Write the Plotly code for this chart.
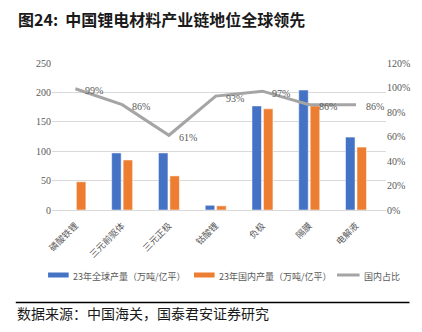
import plotly.graph_objects as go

categories = ["磷酸铁锂", "三元前驱体", "三元正极", "钴酸锂", "负极", "隔膜", "电解液"]
global_output = [None, 97, 97, 8, 177, 204, 124]
domestic_output = [48, 85, 58, 7, 172, 177, 107]
domestic_share = [99, 86, 61, 93, 97, 86, 86]
share_labels = [f"{v}%" for v in domestic_share]

series_names = ["23年全球产量（万吨/亿平）", "23年国内产量（万吨/亿平）", "国内占比"]
BLUE, ORANGE, GREY = "#4472C4", "#ED7D31", "#A5A5A5"

FONT = "Noto Sans CJK SC"
SERIF = "Liberation Serif"
GREY_TXT = "#595959"

# plot area in pixels: x 52..393, y 63..210
L, R, T, B = 52, 393, 63, 210


def px(xp):
    return (xp - L) / (R - L)


def py(yp):
    return (B - yp) / (B - T)


fig = go.Figure()
fig.add_trace(go.Bar(
    x=categories, y=global_output, name=series_names[0],
    marker=dict(color=BLUE, line=dict(color="white", width=0.5)),
))
fig.add_trace(go.Bar(
    x=categories, y=domestic_output, name=series_names[1],
    marker=dict(color=ORANGE, line=dict(color="white", width=0.5)),
))
fig.add_trace(go.Scatter(
    x=categories, y=domestic_share, name=series_names[2], yaxis="y2",
    mode="lines", line=dict(color=GREY, width=3),
))

# value labels for the share line
for c, v, t in zip(categories, domestic_share, share_labels):
    fig.add_annotation(
        x=c, y=v, xref="x", yref="y2", text=t, showarrow=False,
        xanchor="left", yanchor="middle", xshift=8, yshift=-2,
        font=dict(size=10, color=GREY_TXT, family=SERIF),
    )

fig.update_layout(
    width=422, height=332,
    margin=dict(l=L, r=422 - R, t=T, b=332 - B),
    paper_bgcolor="white", plot_bgcolor="white",
    barmode="group", bargap=0.51, bargroupgap=0.17,
    font=dict(family=FONT, size=9, color=GREY_TXT),
    showlegend=False,
    xaxis=dict(
        tickangle=-45, tickfont=dict(size=9, color=GREY_TXT),
        showline=True, linecolor="#D9D9D9", linewidth=1, ticks="",
        ticklabelstandoff=6,
    ),
    yaxis=dict(
        range=[0, 250], dtick=50, showgrid=True, gridcolor="#D9D9D9",
        zeroline=False, ticks="",
        tickfont=dict(size=10, color=GREY_TXT, family=SERIF),
    ),
    yaxis2=dict(
        range=[0, 120], dtick=20, overlaying="y", side="right",
        showgrid=False, zeroline=False, ticksuffix="%",
        tickfont=dict(size=10, color=GREY_TXT, family=SERIF),
    ),
)

# legend drawn as a single row below the category labels
leg_y = 275
legend_items = [
    (48, 69, "rect", BLUE, series_names[0]),
    (197, 218, "rect", ORANGE, series_names[1]),
    (343, 366, "line", GREY, series_names[2]),
]
for x0, x1, kind, col, name in legend_items:
    if kind == "rect":
        fig.add_shape(
            type="rect", xref="paper", yref="paper",
            x0=px(x0), x1=px(x1), y0=py(leg_y + 2.5), y1=py(leg_y - 2.5),
            fillcolor=col, line=dict(width=0),
        )
    else:
        fig.add_shape(
            type="line", xref="paper", yref="paper",
            x0=px(x0), x1=px(x1), y0=py(leg_y), y1=py(leg_y),
            line=dict(color=col, width=3),
        )
    fig.add_annotation(
        xref="paper", yref="paper", x=px(x1 + 2), y=py(leg_y + 1),
        xanchor="left", yanchor="middle", text=name, showarrow=False,
        font=dict(size=9, color=GREY_TXT, family=FONT),
    )

# figure title
fig.add_annotation(
    xref="paper", yref="paper", x=px(15), y=py(19), xanchor="left", yanchor="middle",
    text="<b>图24:  中国锂电材料产业链地位全球领先</b>", showarrow=False,
    font=dict(size=16, color="#1a1a1a", family=FONT),
)
# source footnote with separator rule
fig.add_shape(
    type="line", xref="paper", yref="paper",
    x0=px(15), x1=px(417), y0=py(302.5), y1=py(302.5),
    line=dict(color="black", width=1.5),
)
fig.add_annotation(
    xref="paper", yref="paper", x=px(14), y=py(313), xanchor="left", yanchor="middle",
    text="数据来源：中国海关，国泰君安证券研究", showarrow=False,
    font=dict(size=14, color="#1a1a1a", family=FONT),
)

fig.write_html("out.html")
